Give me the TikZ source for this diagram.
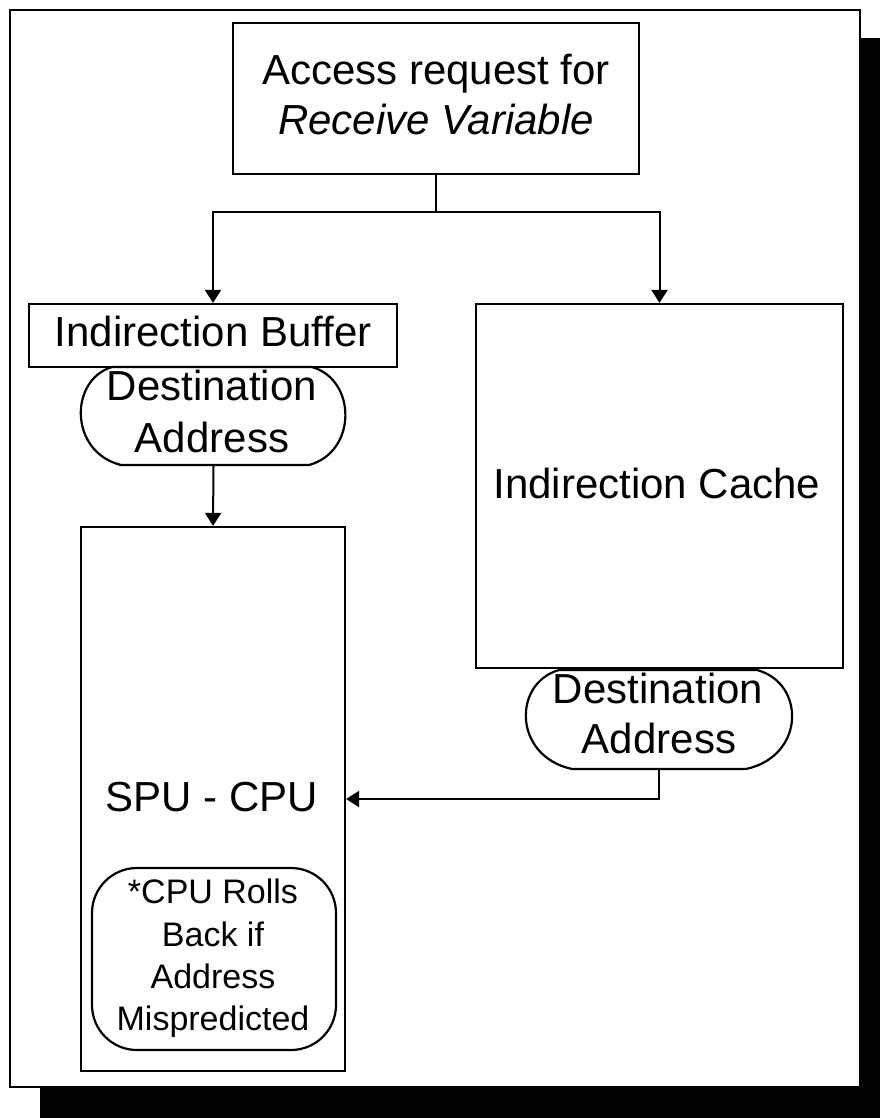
\documentclass[tikz,border=0pt]{standalone}
\usepackage{fontspec}
\setmainfont{Liberation Sans}
\usetikzlibrary{arrows.meta}
\begin{document}
\begin{tikzpicture}[x=1pt,y=-1pt,line width=2.2pt,
  box/.style={draw,inner sep=0pt,line width=2.2pt},
  spot/.style={inner sep=0pt},
  lbl/.style={anchor=base,inner sep=0pt,font=\fontsize{42}{50}\selectfont},
  note/.style={anchor=base,inner sep=0pt,font=\fontsize{34}{42}\selectfont},
  wire/.style={line width=2pt},
  link/.style={line width=2pt,-{Triangle[width=16pt,length=13pt]}}]
\useasboundingbox (0,0) rectangle (880,1118);

% page frame with drop shadow
\fill[black] (860,38) rectangle (880,1118);
\fill[black] (40,1087) rectangle (880,1118);
\draw[fill=white] (10,10) rectangle (860,1087);

% request box
\node[box,minimum width=406pt,minimum height=151pt] (req) at (436,98.5) {};
\node[lbl] (reqa) at (436,85) {Access request for};
\node[lbl] (reqb) at (436,135) {\itshape Receive Variable};

% indirection buffer
\node[box,minimum width=368pt,minimum height=63pt] (buf) at (213,335.5) {};
\node[lbl] (bufl) at (213,346) {Indirection Buffer};

% destination address under the buffer
\node[spot,minimum width=263pt,minimum height=98pt] (da1) at (213.5,416) {};
\draw (112,367) -- (312,367) .. controls (357,380) and (357,452) .. (309,465)
  -- (121,465) .. controls (69,452) and (69,380) .. (112,367) -- cycle;
\node[lbl] (da1a) at (212,400) {Destination};
\node[lbl] (da1b) at (212,452) {Address};

% SPU - CPU
\node[box,minimum width=264pt,minimum height=544pt] (spu) at (213,799) {};
\node[lbl] (spul) at (212,811) {SPU - CPU};
\node[box,rounded corners=45pt,minimum width=244pt,minimum height=182pt] (roll) at (214,959) {};
\node[note] (rolla) at (213,903) {*CPU Rolls};
\node[note] (rollb) at (213,946) {Back if};
\node[note] (rollc) at (213,988) {Address};
\node[note] (rolld) at (213,1030) {Mispredicted};

% indirection cache
\node[box,minimum width=367pt,minimum height=364pt] (cache) at (659.5,486) {};
\node[lbl] (cachel) at (657,498) {Indirection Cache};

% destination address under the cache
\node[spot,minimum width=266pt,minimum height=99pt] (da2) at (659,719.5) {};
\draw (559,670) -- (757,670) .. controls (805.5,683) and (805.5,756) .. (746,769)
  -- (572,769) .. controls (512.8,756) and (512.8,683) .. (559,670) -- cycle;
\node[lbl] (da2a) at (658,703) {Destination};
\node[lbl] (da2b) at (659,753) {Address};

% connectors
\coordinate (split) at (436,212);
\draw[wire] (req.south) -- (split);
\draw[link] (split) -| (buf.north);
\draw[link] (split) -| (cache.north);
\draw[link] (da1.south) -- (spu.north);
\draw[link] (da2.south) |- (spu.east);
\end{tikzpicture}
\end{document}
